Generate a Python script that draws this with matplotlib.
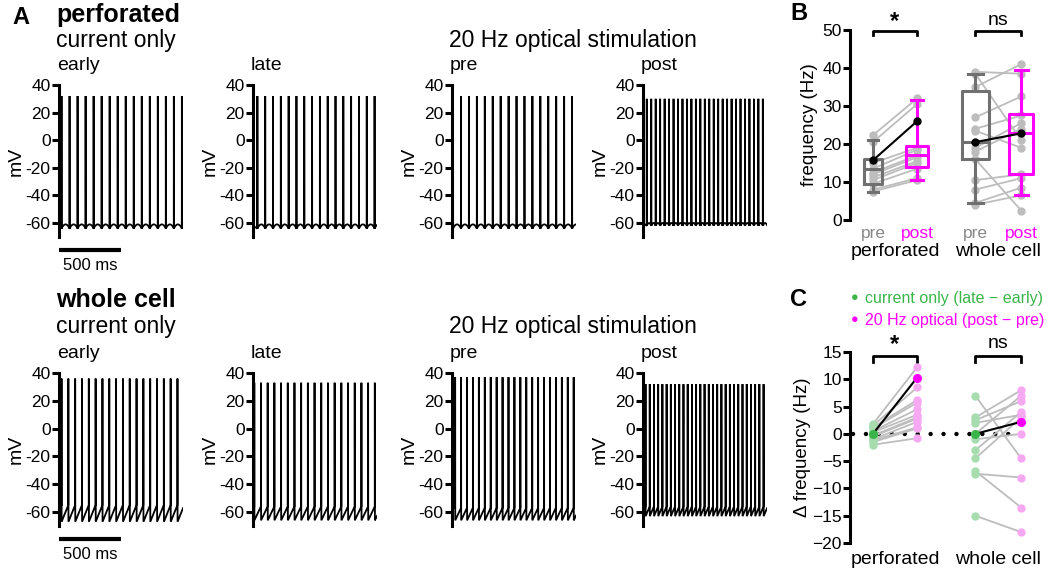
import numpy as np
import matplotlib
matplotlib.use("Agg")
import matplotlib.pyplot as plt

plt.rcParams['font.family'] = ['Liberation Sans', 'DejaVu Sans']

W, H = 1050, 574
fig = plt.figure(figsize=(W / 100, H / 100), dpi=100)

# ---------------- data ----------------
# traces: (n_spikes, first spike ms, ISI ms, peak mV, trough mV, pre-spike mV)
perf_traces = {
    'early': (16, 20, 64.7, 32, -64, -61),
    'late': (16, 35, 63.0, 32, -64, -61),
    'pre': (16, 8, 64.0, 32, -64, -61),
    'post': (27, 30, 36.0, 30, -62, -60),
}
wc_traces = {
    'early': (18, 20, 55.0, 36, -67, -55),
    'late': (19, 10, 54.0, 33, -66, -56),
    'pre': (21, 25, 47.8, 37, -66, -57),
    'post': (29, 20, 34.0, 32, -63, -56),
}
trace_order = ['early', 'late', 'pre', 'post']
mv_ticks = [-60, -40, -20, 0, 20, 40]

# panel B
b_positions = [0, 1, 2.32, 3.36]
b_labels = ['pre', 'post', 'pre', 'post']
perf_pre = [22.3, 20.5, 15.7, 15.0, 13.5, 12.5, 12.0, 11.2, 10.5, 9.5, 8.0, 7.5]
perf_post = [32.0, 30.5, 26.0, 19.0, 18.5, 17.0, 16.5, 15.5, 15.0, 13.5, 11.0, 10.5]
perf_example = 2
wc_pre = [39.0, 38.5, 35.0, 27.0, 24.0, 23.5, 20.5, 19.0, 18.0, 16.0, 10.5, 8.0, 4.5, 4.0]
wc_post = [38.5, 21.0, 41.0, 32.5, 27.5, 19.0, 22.8, 25.5, 24.0, 2.5, 12.0, 11.0, 8.5, 6.5]
wc_example = 6
# box stats: (whislo, q1, med, q3, whishi)
box_stats = [
    (7.5, 9.5, 13.3, 16.0, 21.0),
    (10.5, 14.0, 17.0, 19.5, 31.5),
    (4.5, 16.0, 20.5, 34.0, 38.5),
    (6.5, 12.0, 23.0, 28.0, 39.5),
]
box_widths = [0.42, 0.48, 0.6, 0.55]

# panel C
perf_cur = [1.8, 1.5, 1.2, 1.0, 0.5, 0.3, 0.0, -0.3, -0.5, -1.0, -1.2, -1.5, -2.0]
perf_opt = [12.2, 8.5, 6.2, 5.7, 4.5, 3.5, 10.3, 3.0, 2.8, 2.2, 1.2, 1.0, -0.8]
perf_c_example = 6
wc_cur = [7.0, 3.0, 2.5, 2.0, 0.0, 0.0, -1.0, -3.0, -4.5, -6.8, -7.3, -15.0]
wc_opt = [-4.5, 8.0, 6.0, 3.5, 7.0, 2.2, 0.0, 4.0, 3.0, -13.5, -8.0, -18.0]
wc_c_example = 5

GRAY_BOX = '#707070'
GRAY_PT = '#bdbdbd'
MAG = '#ff00ff'
PINK = '#f7a8f3'
GREEN = '#3ab54a'
LGREEN = '#a6dcae'


def px_axes(left, top, width, height):
    return fig.add_axes([left / W, 1 - (top + height) / H, width / W, height / H])


def build_trace(n, first, isi, peak, trough, thr, ramp):
    spikes = [first + i * isi for i in range(n)]
    T = [0.0]
    V = [thr if ramp else trough + 2]
    for i, s in enumerate(spikes):
        nxt = spikes[i + 1] if i + 1 < n else 1000.0
        T += [s, s + 0.4, s + 1.2]
        V += [thr if ramp else trough, peak, trough]
        tt = np.linspace(s + 1.2, nxt, 30)[1:]
        u = (tt - (s + 1.2)) / (isi - 1.2)
        if ramp:
            vv = trough + (thr - trough) * np.clip(u, 0, 1.2)
        else:
            vv = trough + (thr - trough) * np.sin(np.pi * np.clip(u, 0, 1)) ** 0.8
        T += list(tt)
        V += list(vv)
    return np.array(T), np.array(V)


def trace_row(traces, spines_x, top40, pxmv, ramp, show_bar):
    axes = []
    for k, name in enumerate(trace_order):
        n, first, isi, peak, trough, thr = traces[name]
        height = 110 * pxmv
        ax = px_axes(spines_x[k], top40, 124, height)
        T, V = build_trace(n, first, isi, peak, trough, thr, ramp)
        ax.plot(T, V, color='black', lw=1.3, solid_joinstyle='miter')
        ax.set_xlim(0, 1000)
        ax.set_ylim(-70, 40)
        for sp in ['top', 'right', 'bottom']:
            ax.spines[sp].set_visible(False)
        ax.spines['left'].set_linewidth(2.2)
        ax.set_xticks([])
        ax.set_yticks(mv_ticks)
        ax.set_yticklabels([str(v) for v in mv_ticks])
        ax.tick_params(axis='y', length=5, width=2.2, labelsize=12.5, pad=1)
        ax.set_ylabel('mV', fontsize=14, labelpad=1)
        axes.append(ax)
    if show_bar:
        ax = axes[0]
        ax.plot([0, 500], [-79.5, -79.5], color='black', lw=3, clip_on=False,
                solid_capstyle='butt')
        ax.text(250, -90.5, '500 ms', ha='center', va='center', fontsize=12)
    return axes


spine_x = [59, 253, 452, 643]
trace_row(perf_traces, spine_x, 85, 1.38, False, True)
trace_row(wc_traces, spine_x, 373, 1.39, True, True)

# panel A texts
fig.text(12 / W, 1 - 17 / H, 'A', fontsize=17, fontweight='bold', va='center')
for y0, title in [(15, 'perforated'), (300, 'whole cell')]:
    fig.text(56 / W, 1 - y0 / H, title, fontsize=18, fontweight='bold', va='center')
for y1, y2 in [(40, 66), (327, 354)]:
    fig.text(56 / W, 1 - y1 / H, 'current only', fontsize=16.5, va='center')
    fig.text(449 / W, 1 - y1 / H, '20 Hz optical stimulation', fontsize=16.5, va='center')
    for k, name in enumerate(trace_order):
        fig.text((spine_x[k] - 2) / W, 1 - y2 / H, name, fontsize=14, va='center')

# ---------------- panel B ----------------
axB = px_axes(850, 30, 195, 190)
axB.set_xlim(-0.52, 3.9)
axB.set_ylim(0, 50)
for pre, post, ex, (x0, x1) in [(perf_pre, perf_post, perf_example, b_positions[0:2]),
                                (wc_pre, wc_post, wc_example, b_positions[2:4])]:
    for i, (a, b) in enumerate(zip(pre, post)):
        if i == ex:
            continue
        axB.plot([x0, x1], [a, b], color=GRAY_PT, lw=1.3, marker='o', ms=5,
                 mfc=GRAY_PT, mec=GRAY_PT, zorder=2)
stats = []
for s in box_stats:
    stats.append(dict(whislo=s[0], q1=s[1], med=s[2], q3=s[3], whishi=s[4], fliers=[]))
cols = [GRAY_BOX, MAG, GRAY_BOX, MAG]
for st, pos, w, c in zip(stats, b_positions, box_widths, cols):
    axB.bxp([st], positions=[pos], widths=[w], showfliers=False, capwidths=[w * 0.55],
            boxprops=dict(color=c, lw=2.2), whiskerprops=dict(color=c, lw=2.2),
            capprops=dict(color=c, lw=2.2), medianprops=dict(color=c, lw=2.2),
            manage_ticks=False, zorder=3)
axB.plot(b_positions[0:2], [perf_pre[perf_example], perf_post[perf_example]], color='black',
         lw=1.5, marker='o', ms=5, zorder=5)
axB.plot(b_positions[2:4], [wc_pre[wc_example], wc_post[wc_example]], color='black',
         lw=1.5, marker='o', ms=5, zorder=5)
for sp in ['top', 'right', 'bottom']:
    axB.spines[sp].set_visible(False)
axB.spines['left'].set_linewidth(2.2)
axB.set_yticks([0, 10, 20, 30, 40, 50])
axB.tick_params(axis='y', length=5, width=2.2, labelsize=12.5, pad=1)
axB.set_xticks(b_positions)
axB.set_xticklabels(b_labels, fontsize=12.5)
axB.tick_params(axis='x', length=0, pad=4)
for lab, c in zip(axB.get_xticklabels(), ['#888888', MAG, '#888888', MAG]):
    lab.set_color(c)
axB.set_ylabel('frequency (Hz)', fontsize=13.5, labelpad=3)
for (x0, x1), txt, yt, fs in [((b_positions[0], b_positions[1]), '*', 52.3, 17),
                              ((b_positions[2], b_positions[3]), 'ns', 52.5, 14)]:
    axB.plot([x0, x0, x1, x1], [48.6, 49.8, 49.8, 48.6], color='black', lw=2, clip_on=False)
    axB.text((x0 + x1) / 2, yt, txt, ha='center', va='center', fontsize=fs,
             fontweight='bold' if txt == '*' else 'normal', clip_on=False)
fig.text(895 / W, 1 - 251 / H, 'perforated', fontsize=14, ha='center', va='center')
fig.text(998 / W, 1 - 251 / H, 'whole cell', fontsize=14, ha='center', va='center')
fig.text(790 / W, 1 - 14 / H, 'B', fontsize=17, fontweight='bold', va='center')

# ---------------- panel C ----------------
axC = px_axes(850, 352, 195, 191)
axC.set_xlim(-0.52, 3.9)
axC.set_ylim(-20, 15)
axC.plot([-0.45, 3.6], [0, 0], color='black', lw=3.2, linestyle=(0, (0.01, 2.9)),
         dash_capstyle='round', zorder=1)
for cur, opt, ex, (x0, x1) in [(perf_cur, perf_opt, perf_c_example, b_positions[0:2]),
                               (wc_cur, wc_opt, wc_c_example, b_positions[2:4])]:
    for i, (a, b) in enumerate(zip(cur, opt)):
        if i == ex:
            continue
        axC.plot([x0, x1], [a, b], color=GRAY_PT, lw=1.3, zorder=2)
        axC.plot([x0], [a], 'o', ms=5, color=LGREEN, zorder=3)
        axC.plot([x1], [b], 'o', ms=5, color=PINK, zorder=3)
    axC.plot([x0, x1], [cur[ex], opt[ex]], color='black', lw=1.5, zorder=4)
    axC.plot([x0], [cur[ex]], 'o', ms=5.5, color=GREEN, zorder=5)
    axC.plot([x1], [opt[ex]], 'o', ms=5.5, color=MAG, zorder=5)
for sp in ['top', 'right', 'bottom']:
    axC.spines[sp].set_visible(False)
axC.spines['left'].set_linewidth(2.2)
axC.set_yticks([15, 10, 5, 0, -5, -10, -15, -20])
axC.tick_params(axis='y', length=5, width=2.2, labelsize=12.5, pad=1)
axC.set_xticks([0.5, 2.84])
axC.set_xticklabels(['perforated', 'whole cell'], fontsize=14)
axC.tick_params(axis='x', length=0, pad=6)
axC.set_ylabel('Δ frequency (Hz)', fontsize=13.5, labelpad=1)
for (x0, x1), txt, yt, fs in [((b_positions[0], b_positions[1]), '*', 16.4, 17),
                              ((b_positions[2], b_positions[3]), 'ns', 16.6, 14)]:
    axC.plot([x0, x0, x1, x1], [13.1, 14.3, 14.3, 13.1], color='black', lw=2, clip_on=False)
    axC.text((x0 + x1) / 2, yt, txt, ha='center', va='center', fontsize=fs,
             fontweight='bold' if txt == '*' else 'normal', clip_on=False)
fig.text(790 / W, 1 - 300 / H, 'C', fontsize=17, fontweight='bold', va='center')
fig.text(855 / W, 1 - 298 / H, '●', color=GREEN, fontsize=9, ha='center', va='center')
fig.text(865 / W, 1 - 298 / H, 'current only (late − early)', color=GREEN, fontsize=11.5,
         va='center')
fig.text(855 / W, 1 - 320 / H, '●', color=MAG, fontsize=9, ha='center', va='center')
fig.text(865 / W, 1 - 320 / H, '20 Hz optical (post − pre)', color=MAG, fontsize=11.5,
         va='center')

fig.savefig('out.png', dpi=100)
